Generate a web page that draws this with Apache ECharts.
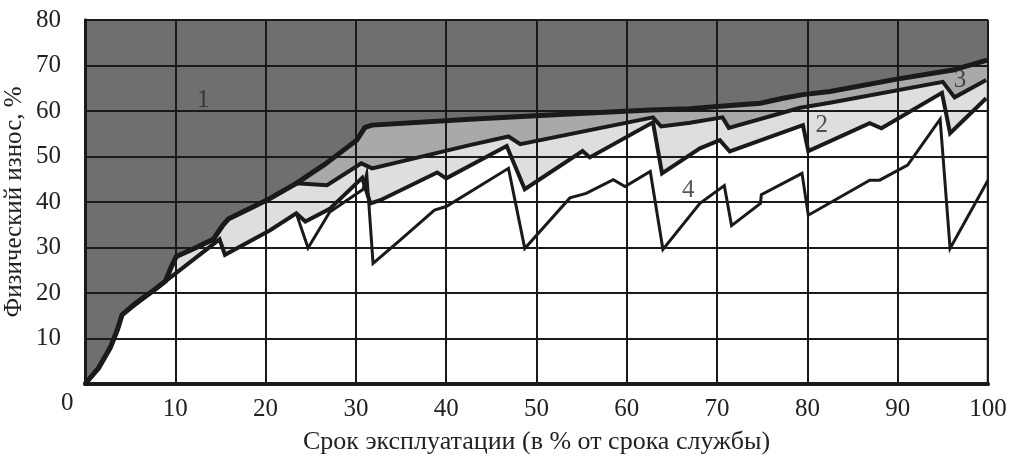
<!DOCTYPE html>
<html>
<head>
<meta charset="utf-8">
<script src="https://cdn.jsdelivr.net/npm/echarts@6/dist/echarts.min.js"></script>
<style>
  html, body { margin: 0; padding: 0; background: #fff; }
  #main { width: 1011px; height: 462px; }
</style>
</head>
<body>
<div id="main"></div>
<script>
// tick labels
var xTicks = [0, 10, 20, 30, 40, 50, 60, 70, 80, 90, 100];
var yTicks = [0, 10, 20, 30, 40, 50, 60, 70, 80];

// upper boundary of zone 1 (dark)
var lineA = [[0,0],[1.5,3.5],[2.8,8],[3.6,12],[4.1,15.2],[5.5,17.6],[7.4,20.3],[8.9,22.6],[9.5,25.5],[10.1,28],
  [12.2,29.9],[14.2,31.8],[15.3,35],[15.9,36.3],[18.3,38.6],[20.5,40.8],[23.4,44.1],[26.5,48.2],[30.1,53.6],[31,56.4],
  [31.8,56.9],[42.6,58.2],[52,59.2],[62.6,60.2],[67,60.5],[70,61],[74.8,61.7],[77.3,62.8],[79.5,63.6],[82.5,64.3],
  [89.9,67],[96.1,69],[99.9,71.2]];

// boundary between zone 3 and zone 2
var lineB = [[0,0],[1.5,3.5],[2.8,8],[3.6,12],[4.1,15.2],[5.5,17.6],[7.4,20.3],[8.9,22.6],[9.5,25.5],[10.1,28],
  [12.2,29.9],[14.2,31.8],[15.3,35],[15.9,36.3],[18.3,38.6],[20.5,40.8],[23.4,44.1],[26.8,43.7],[30.6,48.5],[31.8,47.4],
  [42.6,52.5],[46.9,54.4],[48.2,52.7],[62.9,58.6],[63.8,56.6],[67,57.4],[70.6,58.6],[71.3,56.3],[79.2,60.7],[82.5,61.8],
  [95,66.4],[96.3,63],[99.8,66.8]];

// boundary between zone 2 and zone 4
var lineC = [[0,0],[1.5,3.5],[2.8,8],[3.6,12],[4.1,15.2],[14.9,31.8],[15.5,28.4],[20.5,33.8],[23.4,37.5],[24.4,35.7],
  [27.1,38.5],[30.7,45.3],[31.6,39.7],[32.7,40.4],[39,46.5],[40,45.2],[46.7,52.3],[48.7,42.8],[55.1,51.2],[55.9,49.8],
  [62.9,57.5],[63.9,46.3],[68.1,51.8],[70.3,53.6],[71.4,51.1],[79.5,56.9],[80.1,51.2],[86.9,57.3],[88.2,56.2],[94.9,64],
  [95.8,55.1],[99.8,62.8]];

// lower curve inside zone 4
var lineD = [[23.4,37.5],[24.7,29.9],[27.1,37.8],[30.8,42.8],[31.2,46.2],[31.9,26.5],[34.9,31.6],[38.7,38.2],[40,39],
  [46.9,47.4],[48.7,29.8],[53.7,40.9],[55.5,41.9],[58.5,44.9],[59.8,43.4],[62.6,46.7],[64,29.6],[68.1,39.7],[70.8,43.6],
  [71.6,34.8],[74.8,39.7],[74.9,41.6],[79.4,46.3],[80.1,37.1],[86.9,44.8],[88,44.8],[91.1,48.1],[94.7,58.2],[95.8,29.8],
  [100,44.8]];

// zone numbers
var zoneNames = ['1', '2', '3', '4'];
var zonePos = [[13.1, 62.4], [81.6, 56.9], [96.9, 66.8], [66.8, 42.6]];

var serif = '"Liberation Serif", "DejaVu Serif", serif';
var ink = '#1c1a18';

var chartDom = document.getElementById('main');
var myChart = echarts.init(chartDom, null, { renderer: 'canvas' });

function fill(data, color) {
  return {
    type: 'line', data: data, z: 1, silent: true,
    showSymbol: false, symbol: 'none',
    lineStyle: { width: 0, opacity: 0 },
    areaStyle: { color: color, opacity: 1 }
  };
}
function stroke(data, w) {
  return {
    type: 'line', data: data, z: 3, silent: true,
    showSymbol: false, symbol: 'none',
    lineStyle: { width: w, color: ink, join: 'miter' }
  };
}

var option = {
  animation: false,
  grid: {
    left: 85, right: 23, top: 20, bottom: 78,
    outerBoundsMode: 'none', containLabel: false,
    show: true, backgroundColor: '#6f6f6f', borderWidth: 0
  },
  xAxis: [{
    type: 'value', min: 0, max: 100, interval: 10, z: 2,
    name: 'Срок эксплуатации (в % от срока службы)',
    nameLocation: 'middle', nameGap: 45,
    nameTextStyle: { fontFamily: serif, fontSize: 26, color: '#222' },
    axisLine: { show: true, onZero: false, lineStyle: { color: ink, width: 4 } },
    axisTick: { show: false },
    axisLabel: {
      margin: 13, fontFamily: serif, fontSize: 25, color: '#222',
      formatter: function (v) { return v === 0 ? '' : String(v); }
    },
    splitLine: { show: true, lineStyle: { color: ink, width: 2 } }
  }, {
    type: 'value', min: 0, max: 100, position: 'top', z: 2,
    axisLine: { show: true, lineStyle: { color: ink, width: 3 } },
    axisTick: { show: false }, axisLabel: { show: false }, splitLine: { show: false }
  }],
  yAxis: [{
    type: 'value', min: 0, max: 80, interval: 10, z: 2,
    name: 'Физический износ, %',
    nameLocation: 'middle', nameGap: 58, nameMoveOverlap: false,
    nameTextStyle: { fontFamily: serif, fontSize: 25, color: '#222' },
    axisLine: { show: true, onZero: false, lineStyle: { color: ink, width: 3 } },
    axisTick: { show: false },
    axisLabel: {
      margin: 24, fontFamily: serif, fontSize: 25, color: '#222',
      formatter: function (v) { return v === 0 ? '' : String(v); }
    },
    splitLine: { show: true, lineStyle: { color: ink, width: 2 } }
  }, {
    type: 'value', min: 0, max: 80, position: 'right', z: 2,
    axisLine: { show: true, lineStyle: { color: ink, width: 3 } },
    axisTick: { show: false }, axisLabel: { show: false }, splitLine: { show: false }
  }],
  graphic: [{
    type: 'text', left: 61, top: 391,
    style: { text: String(xTicks[0]), font: '25px ' + serif, fill: '#222' }
  }],
  series: [
    fill(lineA, '#a9a9a9'),
    fill(lineB, '#dedede'),
    fill(lineC, '#ffffff'),
    stroke(lineA, 5),
    stroke(lineB, 4),
    stroke(lineC, 4),
    stroke(lineD, 3),
    {
      type: 'scatter', z: 4, silent: true, symbolSize: 0,
      data: zoneNames.map(function (n, i) { return { name: n, value: zonePos[i] }; }),
      label: {
        show: true, position: 'inside', formatter: '{b}',
        fontFamily: serif, fontSize: 25, color: '#2a2a2a'
      }
    }
  ]
};

option && myChart.setOption(option);
</script>
</body>
</html>
